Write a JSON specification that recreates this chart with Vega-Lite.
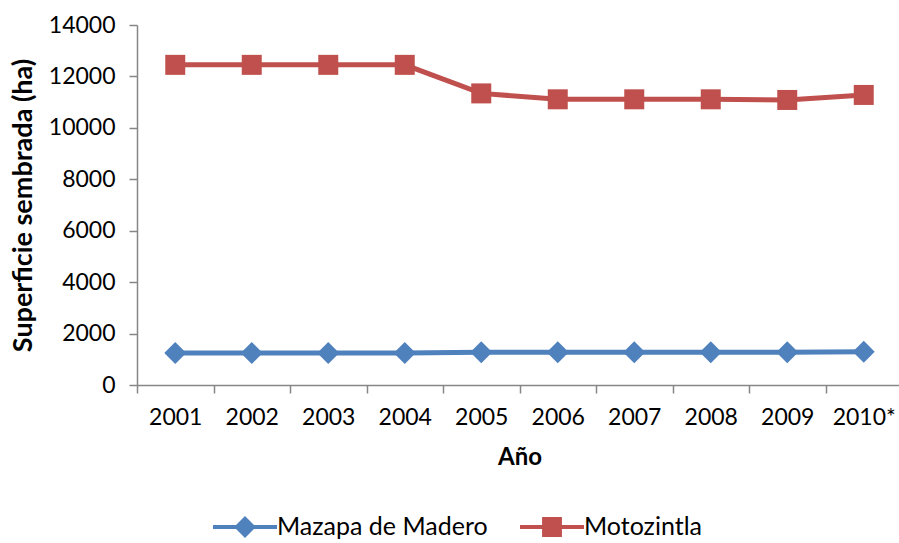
{
  "$schema": "https://vega.github.io/schema/vega-lite/v6.json",
  "autosize": "none",
  "padding": {"left": 137, "top": 25, "right": 0, "bottom": 158},
  "width": 765,
  "height": 360,
  "background": "white",
  "config": {
    "view": {"stroke": null},
    "font": "Lato",
    "axis": {"domainColor": "#868686", "tickColor": "#868686", "domainWidth": 1.5, "tickWidth": 1.5, "labelColor": "#000000", "titleColor": "#000000", "labelFont": "Lato", "titleFont": "Lato", "labelFontWeight": "normal", "titleFontWeight": "bold", "grid": false}
  },
  "data": {
    "values": [
      {"year": "2001", "series": "Mazapa de Madero", "value": 1245},
      {"year": "2002", "series": "Mazapa de Madero", "value": 1245},
      {"year": "2003", "series": "Mazapa de Madero", "value": 1245},
      {"year": "2004", "series": "Mazapa de Madero", "value": 1245},
      {"year": "2005", "series": "Mazapa de Madero", "value": 1275},
      {"year": "2006", "series": "Mazapa de Madero", "value": 1275},
      {"year": "2007", "series": "Mazapa de Madero", "value": 1275},
      {"year": "2008", "series": "Mazapa de Madero", "value": 1275},
      {"year": "2009", "series": "Mazapa de Madero", "value": 1275},
      {"year": "2010*", "series": "Mazapa de Madero", "value": 1295},
      {"year": "2001", "series": "Motozintla", "value": 12450},
      {"year": "2002", "series": "Motozintla", "value": 12450},
      {"year": "2003", "series": "Motozintla", "value": 12450},
      {"year": "2004", "series": "Motozintla", "value": 12450},
      {"year": "2005", "series": "Motozintla", "value": 11340},
      {"year": "2006", "series": "Motozintla", "value": 11110},
      {"year": "2007", "series": "Motozintla", "value": 11110},
      {"year": "2008", "series": "Motozintla", "value": 11110},
      {"year": "2009", "series": "Motozintla", "value": 11085},
      {"year": "2010*", "series": "Motozintla", "value": 11280}
    ]
  },
  "encoding": {
    "x": {
      "field": "year", "type": "ordinal",
      "scale": {"type": "band", "paddingInner": 0, "paddingOuter": 0},
      "axis": {"title": "Año", "labelAngle": 0, "labelFontSize": 23, "titleFontSize": 24, "tickSize": 8, "tickBand": "extent", "labelPadding": 13, "titlePadding": 16}
    },
    "y": {
      "field": "value", "type": "quantitative",
      "scale": {"domain": [0, 14000], "nice": false},
      "axis": {"title": "Superficie sembrada (ha)", "values": [0, 2000, 4000, 6000, 8000, 10000, 12000, 14000], "format": "d", "labelFontSize": 23, "titleFontSize": 27, "tickSize": 8, "labelPadding": 14, "titlePadding": 11}
    },
    "color": {
      "field": "series", "type": "nominal",
      "scale": {"domain": ["Mazapa de Madero", "Motozintla"], "range": ["#4f81bd", "#c0504d"]},
      "legend": {
        "title": null, "orient": "none", "direction": "horizontal", "legendX": 76, "legendY": 470,
        "symbolSize": 4096, "symbolOpacity": 1, "symbolStrokeWidth": 0,
        "labelFontSize": 25, "labelFont": "Lato", "labelColor": "#000000", "labelOffset": 0, "labelLimit": 500, "columnPadding": 32,
        "encode": {"symbols": {"update": {
          "shape": {"signal": "datum.value === 'Motozintla' ? 'M-1,-0.0625H-0.31V-0.31H0.31V-0.0625H1V0.0625H0.31V0.31H-0.31V0.0625H-1Z' : 'M-1,-0.0625H-0.28L0,-0.34L0.28,-0.0625H1V0.0625H0.28L0,0.34L-0.28,0.0625H-1Z'"},
          "fill": {"signal": "datum.value === 'Motozintla' ? '#c0504d' : '#4f81bd'"},
          "strokeWidth": {"value": 0}
        }}}
      }
    }
  },
  "layer": [
    {"mark": {"type": "line", "strokeWidth": 5}},
    {
      "transform": [{"filter": "datum.series === 'Mazapa de Madero'"}],
      "mark": {"type": "point", "filled": true, "opacity": 1, "shape": "diamond", "size": 480}
    },
    {
      "transform": [{"filter": "datum.series === 'Motozintla'"}],
      "mark": {"type": "point", "filled": true, "opacity": 1, "shape": "square", "size": 400}
    }
  ]
}
